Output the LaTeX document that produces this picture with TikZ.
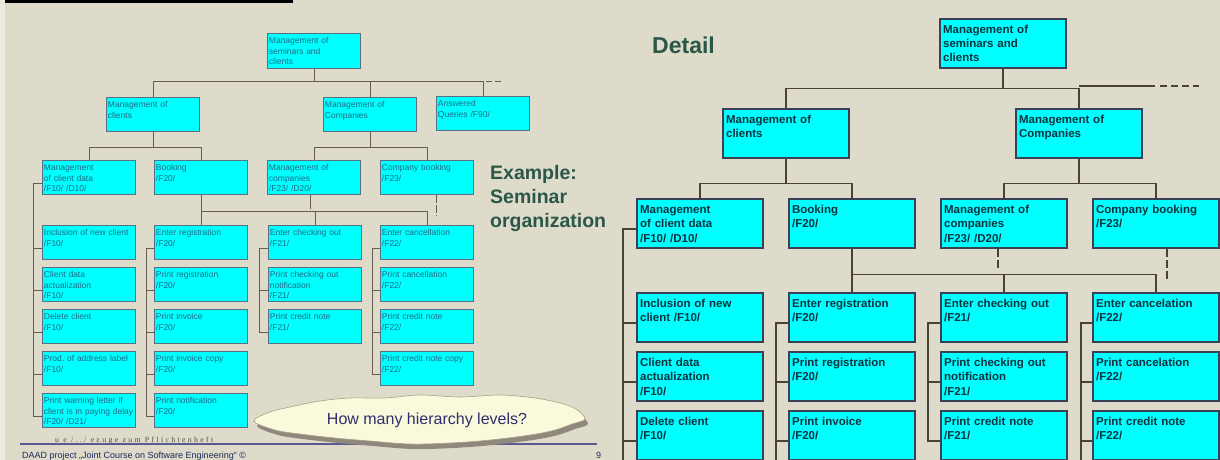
\documentclass[tikz,border=0pt]{standalone}
\usepackage{fontspec}
\setmainfont{Liberation Sans}
\newfontfamily\spacedserif[LetterSpace=30]{Liberation Serif}

\definecolor{bgbeige}{HTML}{DFDBCA}
\definecolor{leftstrip}{HTML}{ECE9DF}
\definecolor{boxcyan}{HTML}{00FFFF}
\definecolor{sedge}{HTML}{587080}
\definecolor{bedge}{HTML}{3A4154}
\definecolor{stext}{HTML}{1F6A86}
\definecolor{btext}{HTML}{0B3340}
\definecolor{wirecol}{HTML}{665C52}
\definecolor{bwirecol}{HTML}{4A4238}
\definecolor{headgreen}{HTML}{2A5747}
\definecolor{cloudfill}{HTML}{FBF9DC}
\definecolor{cloudedge}{HTML}{A8A08A}
\definecolor{cloudshade}{HTML}{8E897C}
\definecolor{cloudtext}{HTML}{2E2E6E}
\definecolor{footblue}{HTML}{5A5A90}
\definecolor{foottext}{HTML}{1E2A5A}

\tikzset{
  sbox/.style={draw=sedge, line width=0.9pt, fill=boxcyan, anchor=north west,
    minimum width=93pt, minimum height=34pt, text width=90pt,
    inner xsep=1.5pt, inner ysep=0pt, align=left, text=stext,
    font=\fontsize{8.5}{10.5}\selectfont, text height=10.5pt, text depth=23.5pt},
  bbox/.style={draw=bedge, line width=2.2pt, fill=boxcyan, anchor=north west,
    minimum width=126pt, minimum height=49pt, text width=120pt,
    inner xsep=3pt, inner ysep=0pt, align=left, text=btext,
    font=\bfseries\fontsize{11.5}{14.2}\selectfont, text height=14.5pt, text depth=34.5pt},
  wire/.style={draw=wirecol, line width=0.9pt},
  bwire/.style={draw=bwirecol, line width=1.4pt},
  heading/.style={text=headgreen, inner sep=0pt, align=left},
}

% outline of the question cloud
\newcommand\cloudoutline{plot[smooth cycle, tension=0.55] coordinates {
  (254,421) (270,412) (290,407) (320,401) (350,398) (385,398) (420,395)
  (460,397) (500,395) (535,398) (560,403) (576,409) (585,419) (572,424)
  (555,430) (530,435) (490,440) (450,443) (410,444) (370,441) (335,438)
  (300,434) (275,430)}}

\begin{document}
\begin{tikzpicture}[x=1pt, y=-1pt]
  % page, margins and the top bar
  \fill[bgbeige] (0,0) rectangle (1220,460);
  \useasboundingbox (0,0) rectangle (1220,460);
  \fill[leftstrip] (0,0) rectangle (5,460);
  \fill[black] (5,0) rectangle (293,3.5);

  % ---------------- small overview tree ----------------
  \node[sbox, minimum height=35pt, text depth=24.5pt] (L0) at (267,33) {Management of\\seminars and\\clients};
  \node[sbox] (L1a) at (106,97) {Management of\\clients};
  \node[sbox] (L1b) at (323,97) {Management of\\Companies};
  \node[sbox] (L1c) at (436,96) {Answered\\Queries /F90/};

  \node[sbox] (L2a) at (42,160)  {Management\\of client data\\/F10/ /D10/};
  \node[sbox] (L2b) at (154,160) {Booking\\/F20/};
  \node[sbox] (L2c) at (267,160) {Management of\\companies\\/F23/ /D20/};
  \node[sbox] (L2d) at (380,160) {Company booking\\/F23/};

  \node[sbox] (Ca1) at (42,225) {\mbox{Inclusion of new client}\\/F10/};
  \node[sbox] (Ca2) at (42,267) {Client data\\actualization\\/F10/};
  \node[sbox] (Ca3) at (42,309) {Delete client\\/F10/};
  \node[sbox] (Ca4) at (42,351) {\mbox{Prod.\ of address label}\\/F10/};
  \node[sbox] (Ca5) at (42,393) {\mbox{Print warning letter if}\\\mbox{client is in paying delay}\\/F20/ /D21/};

  \node[sbox] (Cb1) at (154,225) {Enter registration\\/F20/};
  \node[sbox] (Cb2) at (154,267) {Print registration\\/F20/};
  \node[sbox] (Cb3) at (154,309) {Print invoice\\/F20/};
  \node[sbox] (Cb4) at (154,351) {Print invoice copy\\/F20/};
  \node[sbox] (Cb5) at (154,393) {Print notification\\/F20/};

  \node[sbox] (Cc1) at (268,225) {Enter checking out\\/F21/};
  \node[sbox] (Cc2) at (268,267) {Print checking out\\notification\\/F21/};
  \node[sbox] (Cc3) at (268,309) {Print credit note\\/F21/};

  \node[sbox] (Cd1) at (380,225) {Enter cancellation\\/F22/};
  \node[sbox] (Cd2) at (380,267) {Print cancellation\\/F22/};
  \node[sbox] (Cd3) at (380,309) {Print credit note\\/F22/};
  \node[sbox] (Cd4) at (380,351) {\mbox{Print credit note copy}\\/F22/};

  % overview connectors
  \draw[wire] (L0.south) -- ++(0,13) -| (L1a.north);
  \draw[wire] (L0.south) -- ++(0,13) -| (L1b.north);
  \draw[wire] (L0.south) -- ++(0,13) -| (L1c.north);
  \coordinate (Ldash0) at (486,81);
  \coordinate (Ldash) at (503,81);
  \draw[wire, dash pattern=on 6pt off 3pt] (Ldash0) -- (Ldash);

  \draw[wire] (L1a.south) -- ++(0,16) -| (L2a.north);
  \draw[wire] (L1a.south) -- ++(0,16) -| (L2b.north);
  \draw[wire] (L1b.south) -- ++(0,16) -| (L2c.north);
  \draw[wire] (L1b.south) -- ++(0,16) -| (L2d.north);

  \draw[wire] (L2b.south) -- ++(0,17) -| (Cb1.north);
  \draw[wire] (L2b.south) -- ++(0,17) -| (Cc1.north);
  \draw[wire] (L2b.south) -- ++(0,17) -| (Cd1.north);
  \draw[wire] ([xshift=-4pt]L2c.south) -- ++(0,14);
  \draw[wire, dash pattern=on 8pt off 2pt] ([xshift=9pt]L2d.south) -- ++(0,21);

  \draw[wire] ([yshift=-23pt]L2a.north west) -- ++(-9,0) |- ([yshift=-23pt]Ca5.north west);
  \foreach \n in {Ca1,Ca2,Ca3,Ca4} \draw[wire] ([yshift=-23pt]\n.north west) -- ++(-9,0);
  \draw[wire] ([yshift=-23pt]Cb1.north west) -- ++(-8,0) |- ([yshift=-23pt]Cb5.north west);
  \foreach \n in {Cb2,Cb3,Cb4} \draw[wire] ([yshift=-23pt]\n.north west) -- ++(-8,0);
  \draw[wire] ([yshift=-23pt]Cc1.north west) -- ++(-9,0) |- ([yshift=-23pt]Cc3.north west);
  \draw[wire] ([yshift=-23pt]Cc2.north west) -- ++(-9,0);
  \draw[wire] ([yshift=-23pt]Cd1.north west) -- ++(-8,0) |- ([yshift=-23pt]Cd4.north west);
  \foreach \n in {Cd2,Cd3} \draw[wire] ([yshift=-23pt]\n.north west) -- ++(-8,0);

  % title of the overview
  \node[heading, anchor=base west, text width=140pt, font=\bfseries\fontsize{19.5}{24}\selectfont] (ex) at (490,179) {Example:\\Seminar\\organization};

  % footer rule and reference line
  \node[anchor=base west, inner sep=0pt, text=black!70, font=\spacedserif\fontsize{7.8}{9}\selectfont] (ref) at (55,442) {u e /../ ezuge zum Pflichtenheft};
  \draw[draw=footblue, line width=1.3pt] (20,444) -- (597,444);

  % question cloud with its shadow
  \fill[cloudshade, xshift=3pt, yshift=-5pt] \cloudoutline;
  \filldraw[fill=cloudfill, draw=cloudedge, line width=0.6pt] \cloudoutline;
  \node[anchor=base, text=cloudtext, font=\fontsize{16}{18}\selectfont, inner sep=0pt] (q) at (427,424) {How many hierarchy levels?};

  % footer texts
  \node[anchor=base west, inner sep=0pt, text=foottext, font=\fontsize{9}{10}\selectfont] (ft) at (22,458) {DAAD project „Joint Course on Software Engineering“ ©};
  \node[anchor=base west, inner sep=0pt, text=foottext, font=\fontsize{9}{10}\selectfont] (pg) at (596,458) {9};

  % ---------------- detailed tree ----------------
  \node[heading, anchor=base west, font=\bfseries\fontsize{23}{26}\selectfont] (det) at (652,53) {Detail};

  \node[bbox] (R0)  at (939,18)  {Management of\\seminars and\\clients};
  \node[bbox] (R1a) at (722,108) {Management of\\clients};
  \node[bbox] (R1b) at (1015,108) {Management of\\Companies};

  \node[bbox] (R2a) at (636,198)  {Management\\of client data\\/F10/ /D10/};
  \node[bbox] (R2b) at (788,198)  {Booking\\/F20/};
  \node[bbox] (R2c) at (940,198)  {Management of\\companies\\/F23/ /D20/};
  \node[bbox] (R2d) at (1092,198) {Company booking\\/F23/};

  \node[bbox] (Da1) at (636,292) {Inclusion of new\\client /F10/};
  \node[bbox] (Da2) at (636,351) {Client data\\actualization\\/F10/};
  \node[bbox] (Da3) at (636,410) {Delete client\\/F10/};

  \node[bbox] (Db1) at (788,292) {Enter registration\\/F20/};
  \node[bbox] (Db2) at (788,351) {Print registration\\/F20/};
  \node[bbox] (Db3) at (788,410) {Print invoice\\/F20/};

  \node[bbox] (Dc1) at (940,292) {Enter checking out\\/F21/};
  \node[bbox] (Dc2) at (940,351) {Print checking out\\notification\\/F21/};
  \node[bbox] (Dc3) at (940,410) {Print credit note\\/F21/};

  \node[bbox] (Dd1) at (1092,292) {Enter cancelation\\/F22/};
  \node[bbox] (Dd2) at (1092,351) {Print cancelation\\/F22/};
  \node[bbox] (Dd3) at (1092,410) {Print credit note\\/F22/};

  % detailed connectors
  \draw[bwire] (R0.south) -- ++(0,19) -| (R1a.north);
  \draw[bwire] (R0.south) -- ++(0,19) -| (R1b.north);
  \coordinate (Re1) at (1155,86);
  \coordinate (Re2) at (1160,86);
  \coordinate (Re3) at (1199,86);
  \draw[bwire] (R1b.north |- Re1) -- (Re1);
  \draw[bwire, dash pattern=on 7pt off 4pt] (Re2) -- (Re3);

  \draw[bwire] (R1a.south) -- ++(0,24) -| (R2a.north);
  \draw[bwire] (R1a.south) -- ++(0,24) -| (R2b.north);
  \draw[bwire] (R1b.south) -- ++(0,24) -| (R2c.north);
  \draw[bwire] (R1b.south) -- ++(0,24) -| (R2d.north);

  \draw[bwire] (R2b.south) -- ++(0,25) -| (Db1.north);
  \draw[bwire] (R2b.south) -- ++(0,25) -| (Dc1.north);
  \draw[bwire] (R2b.south) -- ++(0,25) -| (Dd1.north);
  \draw[bwire, dash pattern=on 8pt off 3pt] ([xshift=-6pt]R2c.south) -- ++(0,20);
  \draw[bwire, dash pattern=on 8pt off 3pt] ([xshift=11pt]R2d.south) -- ++(0,31);

  \draw[bwire] ([yshift=-31pt]R2a.north west) -- ++(-13,0) -- ++(0,240);
  \foreach \n in {Da1,Da2,Da3} \draw[bwire] ([yshift=-31pt]\n.north west) -- ++(-13,0);
  \draw[bwire] ([yshift=-31pt]Db1.north west) -- ++(-12,0) -- ++(0,150);
  \foreach \n in {Db2,Db3} \draw[bwire] ([yshift=-31pt]\n.north west) -- ++(-12,0);
  \draw[bwire] ([yshift=-31pt]Dc1.north west) -- ++(-12,0) |- ([yshift=-31pt]Dc3.north west);
  \draw[bwire] ([yshift=-31pt]Dc2.north west) -- ++(-12,0);
  \draw[bwire] ([yshift=-31pt]Dd1.north west) -- ++(-11,0) -- ++(0,150);
  \foreach \n in {Dd2,Dd3} \draw[bwire] ([yshift=-31pt]\n.north west) -- ++(-11,0);
\end{tikzpicture}
\end{document}
